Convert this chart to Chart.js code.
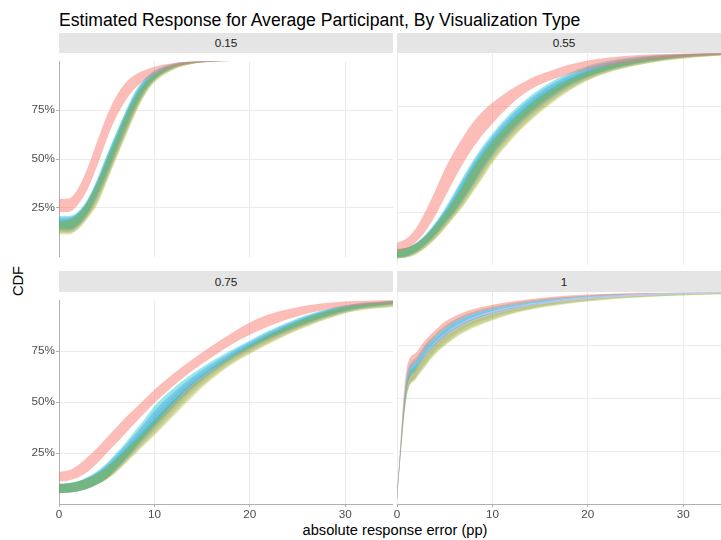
<!DOCTYPE html>
<html>
<head>
<meta charset="utf-8">
<script src="https://cdn.jsdelivr.net/npm/chart.js@4.4.1/dist/chart.umd.min.js"></script>
<style>
  body { margin: 0; width: 721px; height: 540px; overflow: hidden; background: #fff; position: relative;
         font-family: 'Liberation Sans', Arial, sans-serif; }
  canvas { position: absolute; }
  #title { position: absolute; left: 59px; top: 10px; font-size: 17.6px; line-height: 20px; color: #000; white-space: nowrap; }
  .strip { position: absolute; width: 334px; height: 20px; line-height: 20px; background: #e5e5e5;
           text-align: center; font-size: 11.7px; color: #1a1a1a; }
  #xtitle { position: absolute; left: 395px; top: 522px; transform: translateX(-50%); font-size: 14.67px; line-height: 17px; white-space: nowrap; }
  #ytitle { position: absolute; left: 18px; top: 281px; transform: translate(-50%, -50%) rotate(-90deg); font-size: 14.67px; line-height: 17px; }
</style>
</head>
<body>
<div id="title">Estimated Response for Average Participant, By Visualization Type</div>
<div id="xtitle">absolute response error (pp)</div>
<div id="ytitle">CDF</div>
<canvas id="p15" width="393" height="212" style="left:0;top:53px"></canvas>
<canvas id="p55" width="342" height="212" style="left:389px;top:53px"></canvas>
<canvas id="p75" width="393" height="242" style="left:0;top:292px"></canvas>
<canvas id="p100" width="342" height="242" style="left:389px;top:292px"></canvas>
<script>
// facets and ticks
const FACETS = ['0.15', '0.55', '0.75', '1'];
const X_TICKS = [0, 10, 20, 30];
const Y_TICKS = [0.25, 0.5, 0.75];
const Y_TICK_LABELS = ['25%', '50%', '75%'];

// drawing order of the visualization types (ggplot hue order)
const SERIES = ['red', 'olive', 'green', 'cyan', 'blue', 'magenta'];

// --- facet 0.15 ---
const x15 = [0, 1, 2, 3, 4, 5, 6, 7, 8, 9, 10, 12, 14, 16, 18];
const red15Lo     = [.23,.23,.268,.345,.465,.60,.715,.80,.862,.902,.932,.969,.987,.996,1];
const red15Hi     = [.295,.298,.35,.455,.59,.72,.82,.89,.93,.954,.971,.99,.997,1,1];
const cyan15Lo    = [.143,.143,.165,.225,.32,.43,.55,.665,.77,.855,.91,.968,.99,.998,1];
const cyan15Hi    = [.209,.209,.232,.295,.397,.52,.636,.747,.847,.912,.952,.987,.997,1,1];
const blue15Lo    = [.135,.135,.16,.215,.305,.41,.53,.645,.755,.845,.905,.965,.988,.997,1];
const blue15Hi    = [.20,.202,.227,.29,.39,.511,.627,.739,.837,.904,.945,.985,.996,1,1];
const magenta15Lo = [.128,.128,.153,.21,.29,.40,.52,.635,.745,.838,.90,.962,.987,.997,1];
const magenta15Hi = [.193,.196,.223,.287,.385,.503,.619,.732,.829,.897,.94,.983,.996,1,1];
const green15Lo   = [.122,.122,.147,.203,.278,.39,.51,.625,.737,.83,.895,.958,.986,.996,1];
const green15Hi   = [.186,.19,.219,.283,.379,.496,.611,.725,.821,.89,.934,.981,.995,1,1];
const olive15Lo   = [.115,.115,.14,.195,.265,.38,.50,.615,.73,.825,.89,.955,.985,.996,1];
const olive15Hi   = [.18,.185,.215,.28,.375,.49,.605,.72,.815,.885,.93,.98,.995,1,1];

// --- facet 0.55 ---
const x55 = [0, 1, 2, 3, 4, 5, 6, 7, 8, 9, 10, 12, 14, 16, 18, 20, 22, 25, 28, 31, 35];
const red55Lo     = [.065,.075,.108,.16,.232,.318,.405,.485,.555,.615,.668,.76,.828,.87,.90,.922,.94,.96,.974,.983,.993];
const red55Hi     = [.105,.125,.175,.255,.35,.45,.535,.61,.675,.725,.765,.83,.88,.915,.945,.965,.978,.989,.995,.998,1];
const cyan55Lo    = [.035,.042,.065,.10,.145,.20,.255,.32,.39,.465,.53,.64,.725,.795,.85,.89,.92,.952,.972,.985,.995];
const cyan55Hi    = [.075,.082,.104,.144,.198,.265,.342,.422,.495,.562,.62,.72,.798,.86,.905,.94,.962,.982,.992,.997,1];
const blue55Lo    = [.034,.04,.06,.094,.138,.191,.246,.308,.377,.449,.515,.625,.712,.783,.841,.884,.916,.948,.969,.983,.994];
const blue55Hi    = [.074,.081,.103,.141,.194,.258,.331,.409,.483,.549,.607,.707,.785,.848,.895,.931,.955,.978,.99,.996,1];
const magenta55Lo = [.032,.038,.057,.089,.131,.183,.238,.298,.365,.435,.503,.613,.70,.773,.834,.879,.912,.945,.967,.981,.993];
const magenta55Hi = [.072,.081,.102,.139,.191,.251,.322,.399,.473,.539,.597,.695,.774,.838,.886,.924,.95,.974,.988,.995,1];
const green55Lo   = [.031,.036,.053,.084,.125,.176,.231,.288,.354,.421,.49,.60,.689,.763,.826,.874,.908,.942,.965,.98,.991];
const green55Hi   = [.071,.08,.101,.137,.188,.245,.312,.388,.463,.528,.586,.684,.764,.828,.877,.916,.944,.971,.986,.995,1];
const olive55Lo   = [.03,.035,.05,.08,.12,.17,.225,.28,.345,.41,.48,.59,.68,.755,.82,.87,.905,.94,.963,.978,.99];
const olive55Hi   = [.07,.08,.10,.135,.185,.24,.305,.38,.455,.52,.578,.675,.755,.82,.87,.91,.94,.968,.985,.994,1];

// --- facet 0.75 ---
const x75 = [0, 1, 2, 3, 4, 5, 6, 7, 8, 9, 10, 12, 14, 16, 18, 20, 22, 25, 28, 31, 35];
const red75Lo     = [.11,.115,.13,.158,.20,.25,.298,.348,.398,.448,.495,.58,.655,.72,.78,.83,.872,.92,.953,.972,.987];
const red75Hi     = [.157,.165,.19,.23,.275,.325,.375,.425,.47,.515,.56,.64,.71,.775,.835,.89,.93,.965,.985,.995,1];
const cyan75Lo    = [.055,.056,.063,.076,.097,.127,.175,.225,.28,.335,.39,.495,.588,.658,.718,.77,.815,.873,.922,.958,.983];
const cyan75Hi    = [.10,.103,.112,.132,.16,.20,.25,.302,.36,.418,.48,.568,.64,.70,.753,.802,.85,.91,.955,.982,.996];
const blue75Lo    = [.054,.056,.063,.076,.096,.125,.169,.218,.27,.322,.374,.476,.569,.644,.707,.76,.806,.866,.917,.954,.978];
const blue75Hi    = [.099,.102,.111,.13,.156,.193,.24,.29,.344,.398,.456,.547,.623,.687,.743,.794,.843,.905,.951,.98,.995];
const magenta75Lo = [.053,.055,.062,.075,.096,.123,.164,.211,.261,.31,.36,.459,.553,.632,.697,.751,.798,.86,.913,.951,.973];
const magenta75Hi = [.098,.101,.111,.128,.153,.187,.232,.28,.331,.382,.436,.529,.609,.675,.735,.787,.837,.90,.948,.978,.994];
const green75Lo   = [.053,.055,.062,.075,.095,.121,.159,.205,.252,.299,.346,.443,.538,.62,.688,.742,.791,.855,.909,.948,.969];
const green75Hi   = [.098,.101,.11,.126,.15,.182,.224,.27,.318,.365,.416,.51,.594,.664,.727,.78,.831,.896,.945,.976,.994];
const olive75Lo   = [.052,.055,.062,.075,.095,.12,.155,.20,.245,.29,.335,.43,.525,.61,.68,.735,.785,.85,.905,.945,.965];
const olive75Hi   = [.097,.10,.11,.125,.148,.177,.218,.262,.307,.352,.40,.497,.583,.655,.72,.775,.826,.892,.943,.974,.993];

// --- facet 1 ---
const x100 = [0, 1, 2, 3, 4, 5, 6, 7, 8, 10, 12, 14, 16, 18, 20, 23, 26, 30, 35];
const red100Lo     = [.02,.575,.67,.735,.785,.825,.855,.877,.895,.92,.938,.952,.963,.972,.979,.986,.991,.995,.998];
const red100Hi     = [.04,.635,.715,.775,.82,.86,.885,.905,.92,.94,.955,.967,.976,.983,.988,.993,.996,.998,1];
const cyan100Lo    = [.02,.54,.645,.715,.765,.805,.837,.862,.882,.91,.93,.946,.958,.968,.976,.984,.99,.994,.997];
const cyan100Hi    = [.04,.60,.69,.755,.80,.84,.868,.89,.907,.93,.947,.96,.97,.978,.984,.99,.994,.997,.999];
const blue100Lo    = [.02,.53,.63,.70,.75,.79,.823,.848,.868,.898,.92,.937,.95,.961,.969,.979,.985,.99,.995];
const blue100Hi    = [.04,.585,.675,.74,.785,.826,.855,.877,.895,.92,.938,.952,.963,.972,.979,.986,.991,.995,.998];
const magenta100Lo = [.02,.50,.60,.67,.725,.765,.80,.827,.849,.882,.906,.925,.94,.952,.962,.973,.98,.987,.993];
const magenta100Hi = [.04,.57,.66,.725,.772,.812,.842,.865,.884,.91,.93,.945,.957,.966,.974,.982,.988,.992,.996];
const green100Lo   = [.02,.505,.595,.657,.712,.752,.787,.815,.837,.872,.90,.92,.936,.948,.958,.97,.978,.985,.991];
const green100Hi   = [.04,.56,.65,.712,.76,.80,.83,.855,.875,.902,.924,.94,.952,.962,.97,.979,.985,.99,.995];
const olive100Lo   = [.02,.50,.59,.65,.705,.745,.78,.808,.83,.866,.895,.916,.932,.945,.955,.967,.975,.983,.99];
const olive100Hi   = [.04,.55,.64,.70,.75,.79,.82,.845,.865,.895,.918,.935,.948,.958,.966,.975,.982,.988,.994];

// ggplot default hue palette, ribbons drawn with alpha
const COLORS = {
  red: 'rgba(248,118,109,0.48)',
  olive: 'rgba(183,159,0,0.30)',
  green: 'rgba(0,186,56,0.24)',
  cyan: 'rgba(0,191,196,0.40)',
  blue: 'rgba(97,156,255,0.42)',
  magenta: 'rgba(245,100,227,0.22)'
};

const PANELS = [
  { id: 'p15', facet: FACETS[0], xs: x15, left: true, bottom: false,
    bands: { red: [red15Lo, red15Hi], olive: [olive15Lo, olive15Hi], green: [green15Lo, green15Hi],
             cyan: [cyan15Lo, cyan15Hi], blue: [blue15Lo, blue15Hi], magenta: [magenta15Lo, magenta15Hi] } },
  { id: 'p55', facet: FACETS[1], xs: x55, left: false, bottom: false,
    bands: { red: [red55Lo, red55Hi], olive: [olive55Lo, olive55Hi], green: [green55Lo, green55Hi],
             cyan: [cyan55Lo, cyan55Hi], blue: [blue55Lo, blue55Hi], magenta: [magenta55Lo, magenta55Hi] } },
  { id: 'p75', facet: FACETS[2], xs: x75, left: true, bottom: true,
    bands: { red: [red75Lo, red75Hi], olive: [olive75Lo, olive75Hi], green: [green75Lo, green75Hi],
             cyan: [cyan75Lo, cyan75Hi], blue: [blue75Lo, blue75Hi], magenta: [magenta75Lo, magenta75Hi] } },
  { id: 'p100', facet: FACETS[3], xs: x100, left: false, bottom: true,
    bands: { red: [red100Lo, red100Hi], olive: [olive100Lo, olive100Hi], green: [green100Lo, green100Hi],
             cyan: [cyan100Lo, cyan100Hi], blue: [blue100Lo, blue100Hi], magenta: [magenta100Lo, magenta100Hi] } }
];

Chart.defaults.font.family = "'Liberation Sans', Arial, sans-serif";
Chart.defaults.animation = false;

const GRID = '#ebebeb';
const AXIS = '#b0b0b0';

function makePanel(p) {
  // strip label above the panel
  const canvas = document.getElementById(p.id);
  const strip = document.createElement('div');
  strip.className = 'strip';
  strip.textContent = p.facet;
  strip.style.left = (p.left ? 59 : 397) + 'px';
  strip.style.top = (p.bottom ? 271 : 33) + 'px';
  if (p.bottom) strip.style.height = strip.style.lineHeight = '21px';
  document.body.appendChild(strip);

  const datasets = [];
  SERIES.forEach(name => {
    const [lo, hi] = p.bands[name];
    const common = { pointRadius: 0, borderWidth: 0, borderColor: 'rgba(0,0,0,0)',
                     cubicInterpolationMode: 'monotone' };
    datasets.push(Object.assign({ label: name + ' lo', data: p.xs.map((x, i) => ({ x, y: lo[i] })), fill: false }, common));
    datasets.push(Object.assign({ label: name, data: p.xs.map((x, i) => ({ x, y: hi[i] })), fill: '-1',
                                  backgroundColor: COLORS[name] }, common));
  });

  new Chart(canvas, {
    type: 'line',
    data: { datasets },
    options: {
      responsive: false,
      devicePixelRatio: 1,
      layout: { padding: 0 },
      plugins: { legend: { display: false }, tooltip: { enabled: false } },
      scales: {
        x: {
          type: 'linear', min: 0, max: 35,
          afterBuildTicks: s => { s.ticks = X_TICKS.map(v => ({ value: v })); },
          afterFit: s => { s.height = p.bottom ? 30 : 0; },
          ticks: { display: p.bottom, color: '#4d4d4d', font: { size: 11.7 }, padding: 1, maxRotation: 0 },
          grid: { color: GRID, lineWidth: 1, drawTicks: p.bottom, tickLength: 3, tickColor: AXIS },
          border: { display: p.bottom, color: AXIS, width: 1 }
        },
        y: {
          min: 0, max: 1,
          afterBuildTicks: s => { s.ticks = Y_TICKS.map(v => ({ value: v })); },
          afterFit: s => { s.width = p.left ? 59 : 8; },
          ticks: { display: p.left, color: '#4d4d4d', font: { size: 11.7 }, padding: 1,
                   callback: (v, i) => Y_TICK_LABELS[i] },
          grid: { color: GRID, lineWidth: 1, drawTicks: p.left, tickLength: 3, tickColor: AXIS },
          border: { display: p.left, color: AXIS, width: 1 }
        }
      }
    }
  });
}

PANELS.forEach(makePanel);
</script>
</body>
</html>
